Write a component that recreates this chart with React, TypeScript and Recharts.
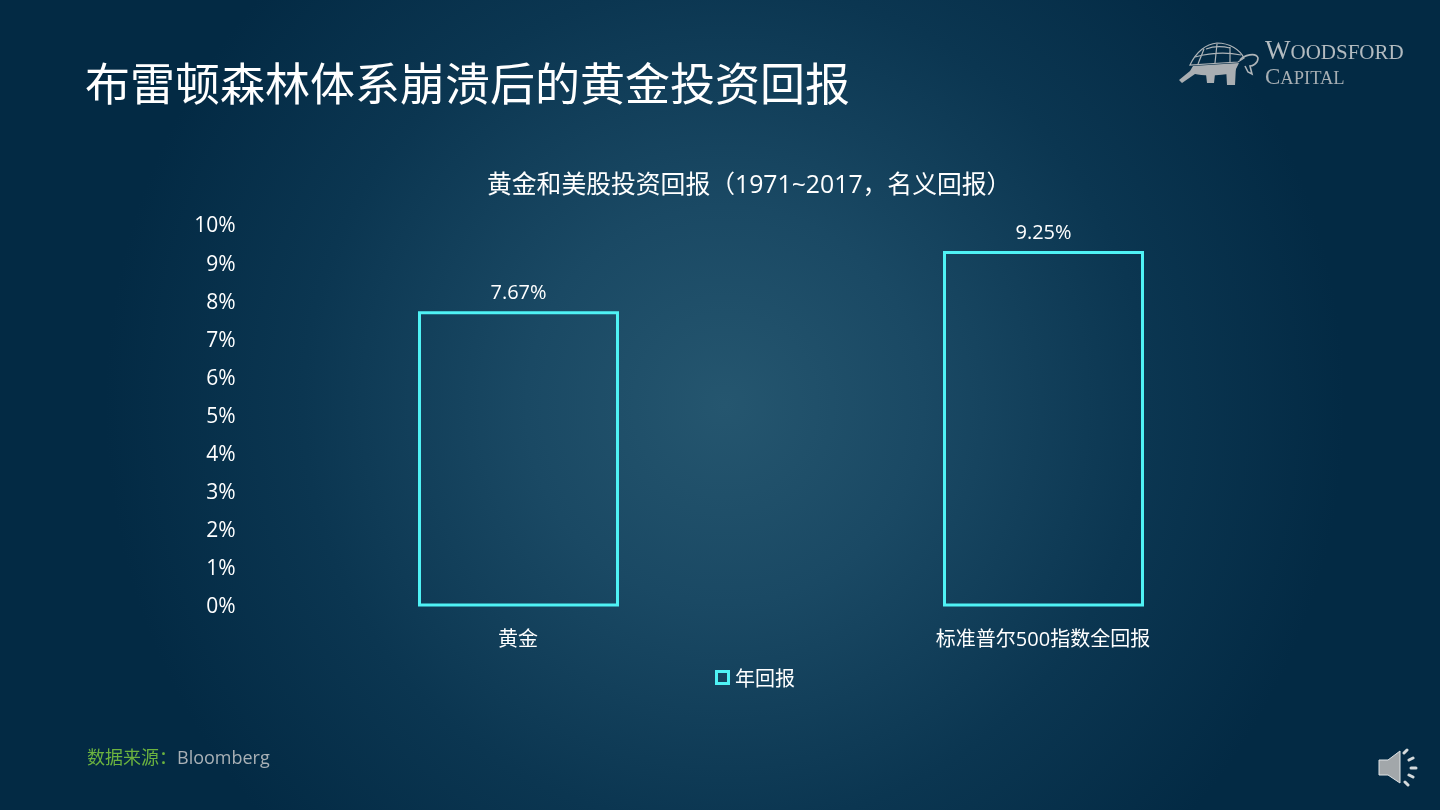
import { BarChart, Bar, XAxis, YAxis, Legend, LabelList } from "recharts";

const categories = ["黄金", "标准普尔500指数全回报"];
const annualReturn = [7.67, 9.25];
const yTicks = [0, 1, 2, 3, 4, 5, 6, 7, 8, 9, 10];
const seriesName = "年回报";

const data = categories.map((name, i) => ({ name, value: annualReturn[i] }));

const FONT = '"Open Sans", "Noto Sans CJK SC", sans-serif';
const CYAN = "#4ff2f5";

const LegendBox = () => (
  <div style={{ display: "flex", alignItems: "center", justifyContent: "center", color: "#fff", fontSize: 20, fontFamily: FONT }}>
    <span style={{ width: 9, height: 9, border: `3px solid ${CYAN}`, marginRight: 5, display: "inline-block" }} />
    {seriesName}
  </div>
);

const Logo = () => (
  <svg width={270} height={90} style={{ position: "absolute", left: 1160, top: 20 }} viewBox="0 0 270 90">
    <g fill="none" stroke="#aeb4b8" strokeWidth={1.2}>
      <path d="M30 45 C36 32 46 24 57 23 C70 23 80 30 84 38 L78 42 C62 43 44 44 30 45 Z" />
      <path d="M44 29 L38 44 M57 24 L55 43 M70 27 L70 42 M35 37 C50 33 66 32 81 35 M46 29 C54 26 62 26 70 28" />
      <path d="M80 40 C84 35 96 32 98 38 C98 44 92 46 90 46 L92 54 L88 52 L85 46" strokeWidth={1.6} />
    </g>
    <path d="M33 46 L79 43 L74 53 C60 56 42 56 35 54 L22 63 L19 60 L30 51 Z" fill="#a9aeb2" />
    <path d="M66 47 L76 46 L75 65 L67 65 Z M46 54 L55 54 L54 63 L47 63 Z" fill="#a9aeb2" />
    <text x={105} y={39} fill="#b3bbc0" fontFamily='"Liberation Serif", serif' fontSize={27}>
      W<tspan fontSize={21}>OODSFORD</tspan>
    </text>
    <text x={105} y={64} fill="#a6aeb3" fontFamily='"Liberation Serif", serif' fontSize={23}>
      C<tspan fontSize={18.5}>APITAL</tspan>
    </text>
  </svg>
);

const Speaker = () => (
  <svg width={50} height={50} style={{ position: "absolute", left: 1372, top: 743 }} viewBox="0 0 50 50">
    <path d="M7 17 L16 17 L28 8 L28 40 L16 32 L7 32 Z" fill="#a2a7aa" stroke="#dfe3e5" strokeWidth={1} />
    <g stroke="#d5dadc" strokeWidth={3} strokeLinecap="round" fill="none">
      <path d="M32 10 L35 7 M37 17 L41 15 M39 25 L44 25 M37 32 L41 34 M33 39 L36 42" />
    </g>
  </svg>
);

export default function App() {
  return (
    <div
      style={{
        position: "fixed",
        left: 0,
        top: 0,
        width: 1440,
        height: 810,
        overflow: "hidden",
        fontFamily: FONT,
        background: "radial-gradient(circle 620px at 725px 405px, #25566f 0%, #1a4964 32%, #0b3651 68%, #032a44 100%)",
      }}
    >
      <div style={{ position: "absolute", left: 85, top: 53, fontSize: 45, lineHeight: "62px", color: "#fff", whiteSpace: "nowrap" }}>
        布雷顿森林体系崩溃后的黄金投资回报
      </div>
      <Logo />
      <div style={{ position: "absolute", left: 487, top: 165, fontSize: 24.8, lineHeight: "36px", color: "#fff", whiteSpace: "nowrap" }}>
        黄金和美股投资回报（1971~2017，名义回报）
      </div>
      <div style={{ position: "absolute", left: 0, top: 0 }}>
        <BarChart
          width={1440}
          height={810}
          data={data}
          margin={{ top: 224, right: 134.5, bottom: 136, left: 195.5 }}
        >
          <XAxis
            dataKey="name"
            axisLine={false}
            tickLine={false}
            height={40}
            interval={0}
            tickMargin={21}
            tick={{ fill: "#fff", fontSize: 20, fontFamily: FONT }}
          />
          <YAxis
            width={60}
            domain={[0, 10]}
            ticks={yTicks}
            interval={0}
            axisLine={false}
            tickLine={false}
            tickMargin={14}
            tickFormatter={(v) => `${v}%`}
            tick={{ fill: "#fff", fontSize: 21, fontFamily: FONT, dy: 1 }}
          />
          <Legend
            content={<LegendBox />}
            wrapperStyle={{ position: "absolute", left: 655, top: 663, width: 200 }}
          />
          <Bar
            dataKey="value"
            name={seriesName}
            barSize={198}
            fill="none"
            stroke={CYAN}
            strokeWidth={3}
            isAnimationActive={false}
          >
            <LabelList
              dataKey="value"
              position="top"
              offset={14}
              formatter={(v: number) => `${v.toFixed(2)}%`}
              style={{ fill: "#fff", fontSize: 20, fontFamily: FONT }}
            />
          </Bar>
        </BarChart>
      </div>
      <div style={{ position: "absolute", left: 87, top: 743, fontSize: 18, lineHeight: "28px", whiteSpace: "nowrap" }}>
        <span style={{ color: "#6cb33f" }}>数据来源：</span>
        <span style={{ color: "#a9b1b6" }}>Bloomberg</span>
      </div>
      <Speaker />
    </div>
  );
}
